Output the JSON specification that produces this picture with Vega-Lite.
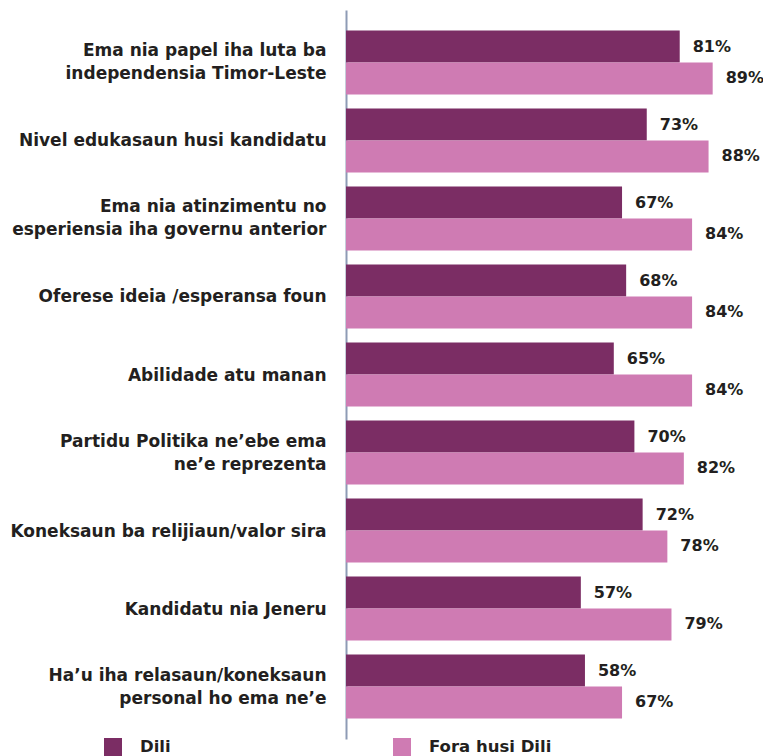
{
  "$schema": "https://vega.github.io/schema/vega-lite/v6.json",
  "autosize": "none",
  "padding": {"left": 346, "top": 10, "right": 5, "bottom": 17},
  "width": 412,
  "height": 729,
  "background": "white",
  "config": {"view": {"stroke": null}, "font": "DejaVu Sans"},
  "data": {"values": [
    {"cat": "Ema nia papel iha luta ba|independensia Timor-Leste", "grupu": "Dili", "v": 0.81},
    {"cat": "Ema nia papel iha luta ba|independensia Timor-Leste", "grupu": "Fora husi Dili", "v": 0.89},
    {"cat": "Nivel edukasaun husi kandidatu", "grupu": "Dili", "v": 0.73},
    {"cat": "Nivel edukasaun husi kandidatu", "grupu": "Fora husi Dili", "v": 0.88},
    {"cat": "Ema nia atinzimentu no|esperiensia iha governu anterior", "grupu": "Dili", "v": 0.67},
    {"cat": "Ema nia atinzimentu no|esperiensia iha governu anterior", "grupu": "Fora husi Dili", "v": 0.84},
    {"cat": "Oferese ideia /esperansa foun", "grupu": "Dili", "v": 0.68},
    {"cat": "Oferese ideia /esperansa foun", "grupu": "Fora husi Dili", "v": 0.84},
    {"cat": "Abilidade atu manan", "grupu": "Dili", "v": 0.65},
    {"cat": "Abilidade atu manan", "grupu": "Fora husi Dili", "v": 0.84},
    {"cat": "Partidu Politika ne’ebe ema|ne’e reprezenta", "grupu": "Dili", "v": 0.70},
    {"cat": "Partidu Politika ne’ebe ema|ne’e reprezenta", "grupu": "Fora husi Dili", "v": 0.82},
    {"cat": "Koneksaun ba relijiaun/valor sira", "grupu": "Dili", "v": 0.72},
    {"cat": "Koneksaun ba relijiaun/valor sira", "grupu": "Fora husi Dili", "v": 0.78},
    {"cat": "Kandidatu nia Jeneru", "grupu": "Dili", "v": 0.57},
    {"cat": "Kandidatu nia Jeneru", "grupu": "Fora husi Dili", "v": 0.79},
    {"cat": "Ha’u iha relasaun/koneksaun|personal ho ema ne’e", "grupu": "Dili", "v": 0.58},
    {"cat": "Ha’u iha relasaun/koneksaun|personal ho ema ne’e", "grupu": "Fora husi Dili", "v": 0.67}
  ]},
  "encoding": {
    "y": {
      "field": "cat", "type": "nominal", "sort": null,
      "scale": {"paddingInner": 0.18, "paddingOuter": 0.263},
      "axis": {
        "title": null, "ticks": false, "labelPadding": 20,
        "labelExpr": "split(datum.label, '|')",
        "labelOffset": {"condition": {"test": "indexof(datum.value, '|') >= 0", "value": -11}, "value": 1},
        "labelFontSize": 17, "labelFontWeight": "bold", "labelColor": "#231f20",
        "labelLineHeight": 23, "labelLimit": 400,
        "domainColor": "#8e9bb5", "domainWidth": 2
      }
    },
    "yOffset": {"field": "grupu", "type": "nominal", "scale": {"paddingInner": 0, "paddingOuter": 0}},
    "x": {"field": "v", "type": "quantitative", "scale": {"domain": [0, 1]}, "axis": null}
  },
  "layer": [
    {
      "mark": {"type": "bar"},
      "encoding": {
        "color": {
          "field": "grupu", "type": "nominal",
          "scale": {"domain": ["Dili", "Fora husi Dili"], "range": ["#7b2d64", "#cf7bb3"]},
          "legend": {
            "title": null, "orient": "none", "direction": "horizontal",
            "legendX": -242, "legendY": 728,
            "symbolType": "square", "symbolSize": 324, "symbolStrokeWidth": 0,
            "symbolOpacity": 1,
            "labelFontSize": 16.5, "labelFontWeight": "bold", "labelColor": "#231f20",
            "labelOffset": 18, "columnPadding": 222
          }
        }
      }
    },
    {
      "mark": {"type": "text", "align": "left", "baseline": "middle", "dx": 13, "fontSize": 16, "fontWeight": "bold", "color": "#231f20"},
      "encoding": {"text": {"field": "v", "type": "quantitative", "format": ".0%"}}
    }
  ]
}
